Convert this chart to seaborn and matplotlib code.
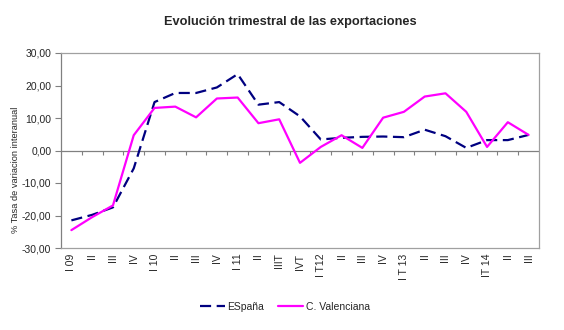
import numpy as np
import pandas as pd
import matplotlib
matplotlib.use("Agg")
import matplotlib.pyplot as plt
from matplotlib.lines import Line2D
import seaborn as sns

quarters = ["I 09", "II", "III", "IV", "I 10", "II", "III", "IV", "I 11", "II",
            "IIIT", "IVT", "I T12", "II", "III", "IV", "I T 13", "II", "III", "IV",
            "IT 14", "II", "III"]
espana = [-21.5, -19.8, -17.5, -5.5, 14.9, 17.7, 17.7, 19.4, 23.5, 14.1,
          14.9, 10.5, 3.4, 3.9, 4.2, 4.3, 4.1, 6.4, 4.4, 0.8,
          3.2, 3.2, 4.8]
valenciana = [-24.5, -20.5, -16.9, 4.7, 13.1, 13.5, 10.2, 16.0, 16.3, 8.4,
              9.6, -3.8, 1.1, 4.7, 0.8, 10.1, 11.9, 16.6, 17.6, 11.9,
              1.1, 8.7, 4.8]
series_names = ["ESpaña", "C. Valenciana"]

sns.set_theme(style="white")
plt.rcParams["font.family"] = ["Liberation Sans", "DejaVu Sans"]

pos = np.arange(len(quarters))
df = pd.DataFrame({
    "pos": np.concatenate([pos, pos]),
    "valor": espana + valenciana,
    "serie": [series_names[0]] * len(pos) + [series_names[1]] * len(pos),
})

fig = plt.figure(figsize=(5.64, 3.30), dpi=100)
ax = fig.add_axes([61 / 564, 1 - 248 / 330, 478 / 564, 195 / 330])

palette = {series_names[0]: "#000080", series_names[1]: "#FF00FF"}
sns.lineplot(data=df, x="pos", y="valor", hue="serie", style="serie",
             dashes={series_names[0]: (5, 2.5), series_names[1]: ""},
             palette=palette, linewidth=1.6, ax=ax, legend=False)

ax.set_xlim(-0.5, len(quarters) - 0.5)
ax.set_ylim(-30, 30)
yt = np.arange(-30, 31, 10)
ax.set_yticks(yt)
ax.set_yticklabels([f"{v:.2f}".replace(".", ",") for v in yt], fontsize=7.5)
ax.set_xticks(pos)
ax.set_xticklabels(quarters, rotation=90, fontsize=7.5)
ax.tick_params(axis="x", length=0, pad=4)
ax.tick_params(axis="y", length=4, width=0.8, color="#808080", direction="out", pad=3, left=True)
ax.set_xlabel("")
ax.set_ylabel("% Tasa de variacion interanual", fontsize=6.7)
ax.yaxis.set_label_coords(-0.086, 0.40)

for side in ["top", "right", "bottom"]:
    ax.spines[side].set_color("#A0A0A0")
    ax.spines[side].set_linewidth(0.9)
ax.spines["left"].set_color("#808080")
ax.spines["left"].set_linewidth(0.9)

# category axis crossing at zero with boundary tick marks
ax.axhline(0, color="#808080", linewidth=0.9, zorder=1)
bounds = np.arange(0.5, len(quarters) - 0.5, 1.0)
ax.vlines(bounds, -1.3, 0, color="#808080", linewidth=0.8, zorder=1)

fig.text(290 / 564, 1 - 22 / 330, "Evolución trimestral de las exportaciones",
         ha="center", va="center", fontsize=9.2, fontweight="bold")

handles = [Line2D([], [], color="#000080", linewidth=1.6, dashes=(5, 2.5)),
           Line2D([], [], color="#FF00FF", linewidth=1.6)]
fig.legend(handles, series_names, loc="center", bbox_to_anchor=(285 / 564, 1 - 307 / 330),
           ncol=2, frameon=False, fontsize=7.5, handlelength=2.4, columnspacing=1.35,
           handletextpad=0.25, borderpad=0, borderaxespad=0)

fig.savefig("out.png", dpi=100)
